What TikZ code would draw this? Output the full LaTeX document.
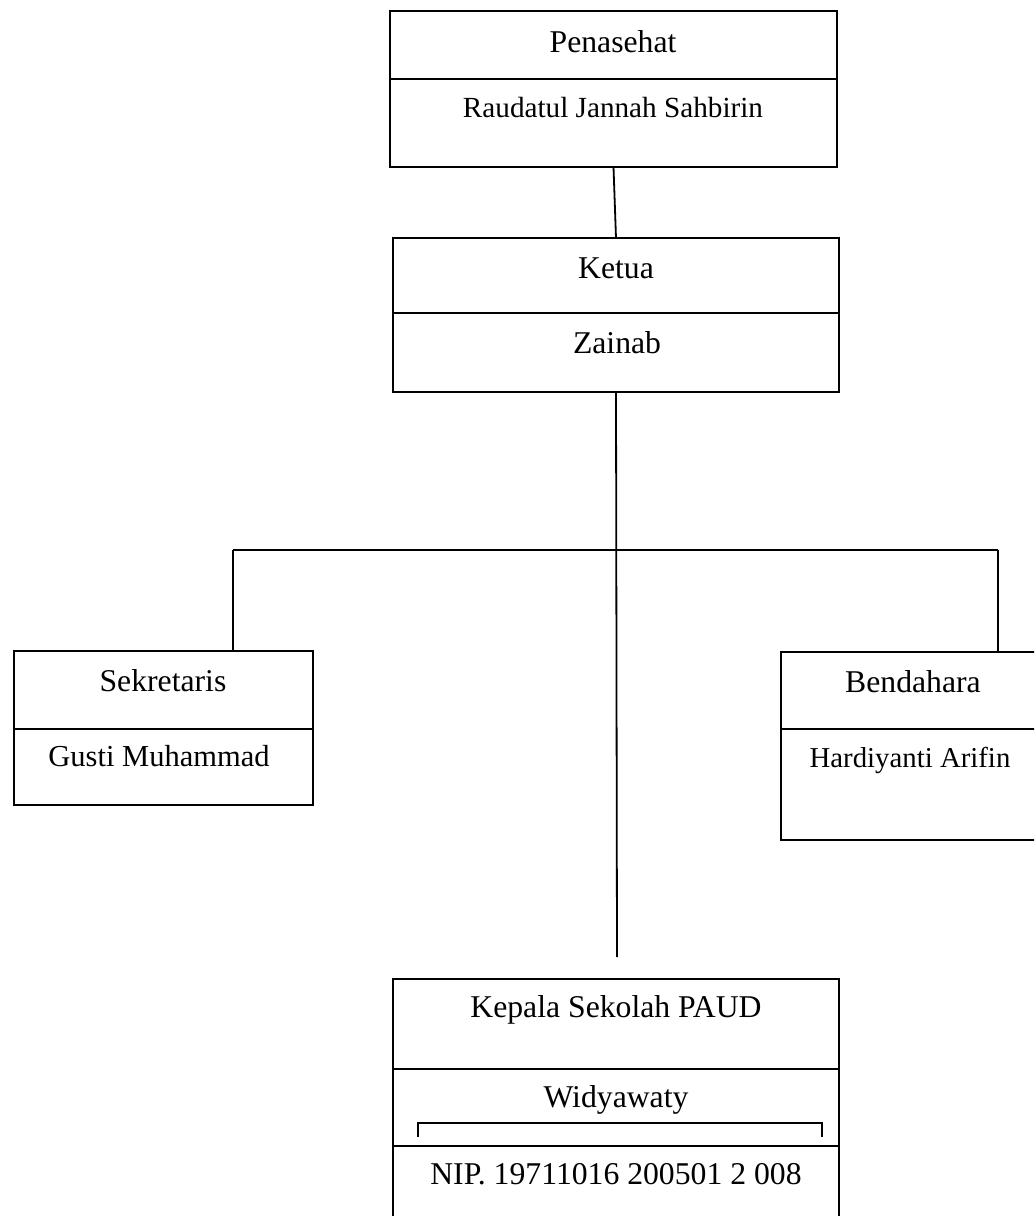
\documentclass[tikz,border=0pt]{standalone}
\usepackage{fontspec}
\setmainfont{Liberation Serif}
\begin{document}
\begin{tikzpicture}[x=1pt,y=-1pt,
  box/.style={draw=black, line width=1.8pt, rectangle, inner sep=0pt, outer sep=0pt, anchor=north west},
  conn/.style={draw=black, line width=1.8pt},
  lbl/.style={font=\fontsize{31.7}{38}\selectfont, inner sep=0pt, anchor=base},
  lbls/.style={font=\fontsize{29.2}{35}\selectfont, inner sep=0pt, anchor=base}]
\useasboundingbox[fill=white] (0,0) rectangle (1034,1216);
\clip (0,0) rectangle (1034,1216);
% boxes
\node[box, minimum width=447pt, minimum height=156pt] (pen) at (390,11) {};
\node[box, minimum width=446pt, minimum height=154pt] (ket) at (393,238) {};
\node[box, minimum width=299pt, minimum height=154pt] (sek) at (14,651) {};
\node[box, minimum width=280pt, minimum height=188pt] (ben) at (781,652) {};
\node[box, minimum width=446pt, minimum height=260pt] (kep) at (393,979) {};
% dividers
\draw[conn] (pen.west |- 0,79) -- (pen.east |- 0,79);
\draw[conn] (ket.west |- 0,313) -- (ket.east |- 0,313);
\draw[conn] (sek.west |- 0,729) -- (sek.east |- 0,729);
\draw[conn] (ben.west |- 0,729) -- (ben.east |- 0,729);
\draw[conn] (kep.west |- 0,1069) -- (kep.east |- 0,1069);
\draw[conn] (kep.west |- 0,1146) -- (kep.east |- 0,1146);
% bracket
\draw[line width=1.4pt] (418,1137) -- (418,1123) -- (822,1123) -- (822,1137);
% texts
\node[lbl] (penT) at (613,52) {Penasehat};
\node[lbls] (penN) at (613,117) {Raudatul Jannah Sahbirin};
\node[lbl] (ketT) at (616,278) {Ketua};
\node[lbl] (ketN) at (617,353) {Zainab};
\node[lbl] (sekT) at (163,691) {Sekretaris};
\node[lbl, font=\fontsize{30.5}{36}\selectfont] (sekN) at (159,766) {Gusti Muhammad};
\node[lbl] (benT) at (913,692) {Bendahara};
\node[lbl, font=\fontsize{28.8}{35}\selectfont] (benN) at (910,767) {Hardiyanti Arifin};
\node[lbl] (kepT) at (616,1017) {Kepala Sekolah PAUD};
\node[lbl] (kepN) at (616,1107) {Widyawaty};
\node[lbl] (kepI) at (616,1184) {NIP. 19711016 200501 2 008};
% connectors
\coordinate (trunkend) at (617,957);
\coordinate (jl) at (233,550);
\coordinate (jr) at (998,550);
\draw[conn] (pen.south) -- (ket.north);
\draw[conn] (ket.south) -- (trunkend);
\draw[conn] (jl) -- (jr);
\draw[conn] (jl) -- (jl |- sek.north);
\draw[conn] (jr) -- (jr |- ben.north);
\end{tikzpicture}
\end{document}
